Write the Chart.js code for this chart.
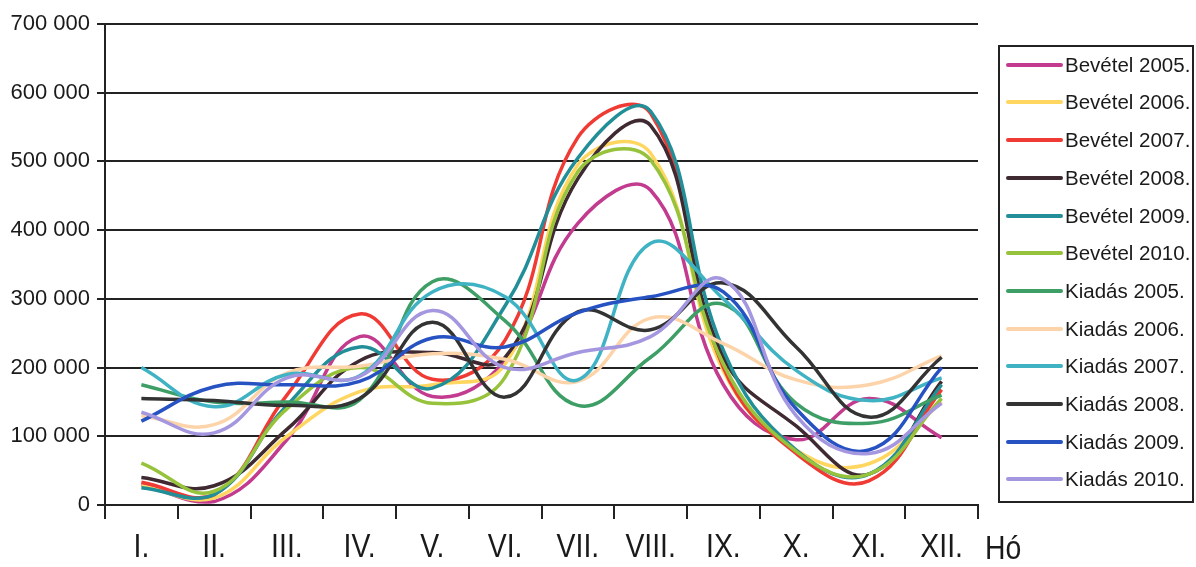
<!DOCTYPE html>
<html>
<head>
<meta charset="utf-8">
<script src="https://cdn.jsdelivr.net/npm/chart.js@4.4.1/dist/chart.umd.min.js"></script>
<style>
  html, body { margin: 0; padding: 0; background: #fff; }
  #wrap { position: relative; width: 1196px; height: 567px; overflow: hidden; }
  #c { position: absolute; left: 0; top: 0; }
  #legend { position: absolute; left: 998px; top: 45px; width: 196px; height: 458px;
            border: 2px solid #222; box-sizing: border-box; }
  .row { position: absolute; left: 0; height: 30px; display: flex; align-items: center; }
  .sw { display: inline-block; width: 57px; height: 4px; margin-left: 6px; margin-right: 2px; border-radius: 2px; }
  .lbl { font-family: 'Liberation Sans', Arial, sans-serif; font-size: 20.5px; color: #1a1a1a; white-space: nowrap; }
  #ho { position: absolute; left: 985px; top: 528px; font-family: 'Liberation Sans', Arial, sans-serif;
        font-size: 33px; color: #1a1a1a; line-height: 40px; transform: scaleX(0.86); transform-origin: left center; }
</style>
</head>
<body>
<div id="wrap">
  <canvas id="c" width="1196" height="567"></canvas>
  <div id="legend"></div>
  <div id="ho">Hó</div>
</div>
<script>
const months = ['I.', 'II.', 'III.', 'IV.', 'V.', 'VI.', 'VII.', 'VIII.', 'IX.', 'X.', 'XI.', 'XII.'];
const yTicks = [0, 100000, 200000, 300000, 400000, 500000, 600000, 700000];

const bev2005 = [30000, 5000, 95000, 245000, 158000, 210000, 410000, 458000, 175000, 95000, 155000, 98000];
const bev2006 = [28000, 10000, 100000, 165000, 175000, 205000, 495000, 512000, 195000, 80000, 60000, 150000];
const bev2007 = [33000, 15000, 160000, 278000, 183000, 240000, 535000, 570000, 200000, 75000, 35000, 168000];
const bev2008 = [40000, 28000, 110000, 210000, 222000, 215000, 475000, 552000, 215000, 115000, 45000, 180000];
const bev2009 = [25000, 15000, 145000, 230000, 170000, 290000, 505000, 573000, 225000, 80000, 45000, 175000];
const bev2010 = [61000, 20000, 140000, 200000, 148000, 186000, 485000, 502000, 205000, 78000, 45000, 155000];
const kia2005 = [175000, 150000, 150000, 153000, 325000, 268000, 145000, 215000, 292000, 148000, 119000, 160000];
const kia2006 = [130000, 117000, 192000, 202000, 220000, 212000, 180000, 272000, 235000, 182000, 175000, 217000];
const kia2007 = [200000, 143000, 190000, 188000, 310000, 303000, 182000, 381000, 300000, 196000, 152000, 185000];
const kia2008 = [155000, 152000, 145000, 155000, 266000, 157000, 281000, 255000, 323000, 230000, 128000, 215000];
const kia2009 = [122000, 172000, 175000, 180000, 243000, 230000, 280000, 303000, 310000, 140000, 80000, 200000];
const kia2010 = [135000, 105000, 185000, 187000, 283000, 200000, 222000, 245000, 328000, 130000, 75000, 148000];

const seriesLabels = ['Bevétel 2005.', 'Bevétel 2006.', 'Bevétel 2007.', 'Bevétel 2008.', 'Bevétel 2009.', 'Bevétel 2010.',
                      'Kiadás 2005.', 'Kiadás 2006.', 'Kiadás 2007.', 'Kiadás 2008.', 'Kiadás 2009.', 'Kiadás 2010.'];
const seriesData = [bev2005, bev2006, bev2007, bev2008, bev2009, bev2010, kia2005, kia2006, kia2007, kia2008, kia2009, kia2010];
const seriesColors = ['#C23B8E', '#FFD660', '#F03A34', '#3E2A30', '#218E98', '#97C23C',
                      '#3D9E66', '#FDD4AA', '#3FB2C4', '#333333', '#2752C2', '#A596E0'];

const fmt = v => String(v).replace(/\B(?=(\d{3})+(?!\d))/g, ' ');

const datasets = seriesData.map((d, i) => ({
  label: seriesLabels[i],
  data: d,
  borderColor: seriesColors[i],
  backgroundColor: seriesColors[i],
  borderWidth: 3.5,
  pointRadius: 0,
  tension: 0.42,
  fill: false,
  order: 12 - i
}));

// draw condensed x-axis labels (tall narrow font as in the reference)
const narrowXLabels = {
  id: 'narrowXLabels',
  afterDraw(chart) {
    const sx = chart.scales.x;
    const ctx = chart.ctx;
    ctx.save();
    ctx.fillStyle = '#1a1a1a';
    ctx.font = "33px 'Liberation Sans', Arial, sans-serif";
    ctx.textAlign = 'center';
    ctx.textBaseline = 'middle';
    sx.ticks.forEach((t, i) => {
      const x = sx.getPixelForTick(i);
      ctx.save();
      ctx.translate(x, 548);
      ctx.scale(0.86, 1);
      ctx.fillText(sx.getLabelForValue(t.value), 0, 0);
      ctx.restore();
    });
    ctx.restore();
  }
};

new Chart(document.getElementById('c'), {
  type: 'line',
  data: { labels: months, datasets },
  plugins: [narrowXLabels],
  options: {
    responsive: false,
    animation: false,
    layout: { padding: { top: 24, right: 218, left: 0, bottom: 0 } },
    plugins: { legend: { display: false }, tooltip: { enabled: false } },
    scales: {
      x: {
        type: 'category',
        offset: true,
        afterFit: s => { s.height = 62; },
        grid: { offset: true, drawOnChartArea: false, drawTicks: true, tickLength: 14, color: '#222', lineWidth: 2 },
        border: { display: true, color: '#222', width: 2 },
        ticks: { display: false, autoSkip: false }
      },
      y: {
        min: 0, max: 700000,
        afterFit: s => { s.width = 105; },
        afterBuildTicks: s => { s.ticks = yTicks.map(v => ({ value: v })); },
        grid: { color: '#222', lineWidth: 2, tickLength: 8, drawTicks: true },
        border: { display: true, color: '#222', width: 2 },
        ticks: { color: '#1a1a1a', padding: 7, callback: v => fmt(v),
                 font: { family: "'Liberation Sans', Arial, sans-serif", size: 22 } }
      }
    }
  }
});

const lg = document.getElementById('legend');
seriesLabels.forEach((t, i) => {
  const row = document.createElement('div');
  row.className = 'row';
  row.style.top = (62.7 + i * 37.7 - 45 - 15) + 'px';
  const sw = document.createElement('span');
  sw.className = 'sw';
  sw.style.background = seriesColors[i];
  const lb = document.createElement('span');
  lb.className = 'lbl';
  lb.textContent = t;
  row.appendChild(sw);
  row.appendChild(lb);
  lg.appendChild(row);
});
</script>
</body>
</html>
